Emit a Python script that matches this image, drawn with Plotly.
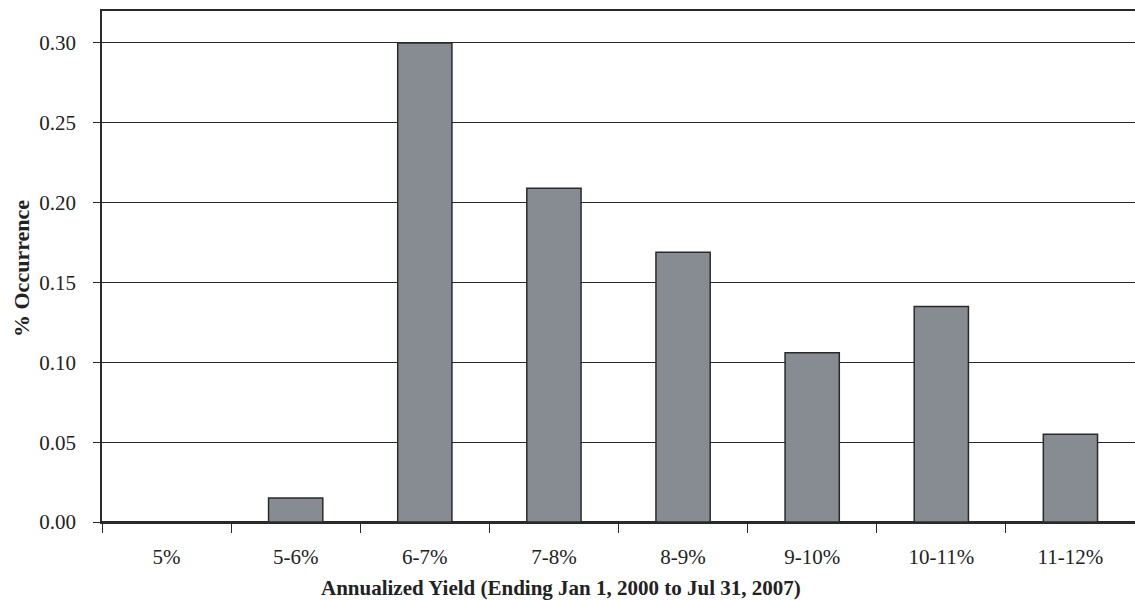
import plotly.graph_objects as go

categories = ["5%", "5-6%", "6-7%", "7-8%", "8-9%", "9-10%", "10-11%", "11-12%"]
occurrence = [0.0, 0.015, 0.30, 0.209, 0.169, 0.106, 0.135, 0.055]
y_ticks = [0.0, 0.05, 0.10, 0.15, 0.20, 0.25, 0.30]
x_title = "Annualized Yield (Ending Jan 1, 2000 to Jul 31, 2007)"
y_title = "% Occurrence"

FONT = "Liberation Serif, Times New Roman, serif"

fig = go.Figure()
fig.add_trace(go.Bar(
    x=categories, y=occurrence,
    marker=dict(color="#878c93", line=dict(color="#2a2a2a", width=1.5)),
    width=0.42,
))

W, H = 1135, 600
L, R, T, B = 102, 0, 11, 78
pw = W - L - R

fig.update_layout(
    width=W, height=H,
    margin=dict(l=L, r=R, t=T, b=B),
    paper_bgcolor="white", plot_bgcolor="white",
    showlegend=False,
    font=dict(family=FONT, size=21, color="#222"),
    xaxis=dict(
        type="category", range=[-0.5, 7.5],
        showline=True, linecolor="#2a2a2a", linewidth=1.5, mirror=True,
        ticks="outside", ticklen=9, tickwidth=1.2, tickcolor="#2a2a2a",
        tickson="boundaries", ticklabelstandoff=15,
        showgrid=False,
        tickfont=dict(family=FONT, size=21, color="#222"),
    ),
    yaxis=dict(
        range=[0, 0.32],
        tickvals=y_ticks, tickformat=".2f",
        showline=True, linecolor="#2a2a2a", linewidth=1.5,
        ticks="outside", ticklen=7, tickwidth=1.2, tickcolor="#2a2a2a",
        ticklabelstandoff=13,
        showgrid=True, gridcolor="#2a2a2a", gridwidth=1.3,
        zeroline=True, zerolinecolor="#2a2a2a", zerolinewidth=1.5,
        tickfont=dict(family=FONT, size=21, color="#222"),
    ),
    annotations=[
        dict(text=x_title, xref="paper", yref="paper",
             x=(561 - L) / pw, y=0, xanchor="center", yanchor="middle",
             yshift=-66, showarrow=False,
             font=dict(family=FONT, size=21, color="#222", weight="bold")),
        dict(text=y_title, xref="paper", yref="paper",
             x=0, y=(522 - 269) / (522 - 11), xanchor="center", yanchor="middle",
             xshift=-(L - 21), textangle=-90, showarrow=False,
             font=dict(family=FONT, size=22, color="#222", weight="bold")),
    ],
)

fig.write_html("out.html", config={"displayModeBar": False},
               post_script="document.body.style.margin='0';document.body.style.overflow='hidden';")
